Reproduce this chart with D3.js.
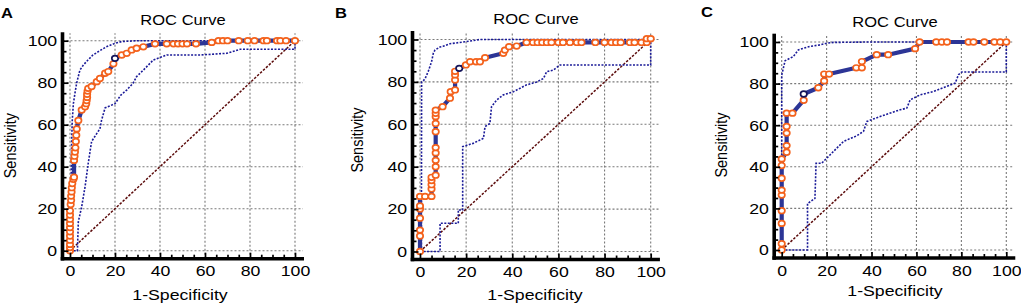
<!DOCTYPE html>
<html>
<head>
<meta charset="utf-8">
<script src="https://cdn.jsdelivr.net/npm/d3@7"></script>
<style>
  body { margin: 0; background: #fff; }
  svg { display: block; font-family: "Liberation Sans", Arial, sans-serif; }
</style>
</head>
<body>
<svg id="chart" width="1021" height="306"></svg>
<script>
// ---- data: [1-specificity, sensitivity] ----
var majorTicks = [0, 20, 40, 60, 80, 100];
var minorTicks = d3.range(0, 101, 5);
var panelLetters = ["A", "B", "C"];
var titleText = "ROC Curve";
var xTitle = "1-Specificity";
var yTitle = "Sensitivity";

var rocA = [[0,0],[0,1.5],[0,3],[0,5],[0,7],[0,9],[0,11],[0,13],[0,15],[0,17],[0,19],[0.3,22],[0.5,24],[0.5,26],
  [0.7,28],[0.8,30],[1,32],[1.5,34],[1.8,35],[1.8,43],[2,45],[2.2,47],[2.4,49],[2.6,52],[2.8,55],[3,58],[3.7,62],
  [5.2,67],[6.7,68.5],[7.2,70],[7.4,71.5],[7.6,73],[7.6,74.5],[7.8,76],[8.1,77.3],[9.6,78.2],[11.9,80.5],[13.3,82],
  [15.6,84.5],[17,85.3],[19.3,89],[20,91.6],[23,93.2],[25.2,94],[27.4,95.6],[29.6,96.4],[32.6,97.1],[37.8,98.5],
  [43,98.5],[46,98.5],[48,98.5],[50,98.5],[52,98.5],[56,98.5],[63,99.2],[66,100],[68,100],[70,100],[75,100],
  [79,100],[82,100],[86,100],[87.5,100],[92,100],[93.5,100],[96,100],[100,100]];
var optA = [20, 91.6];
var upperA = [[0.4,0],[0.5,30],[0.7,50],[1,62],[1.5,70],[2.2,75],[3,80],[4.4,86],[6,88.5],[8,90.8],[10,93],
  [12.6,94.8],[16,97],[20,98.8],[23,99.6],[30,100],[100,100]];
var lowerA = [[0,0],[3.3,0],[3.7,13.8],[5.2,21],[6.7,30.5],[8.1,41.6],[9.6,52],[12,56],[13.3,58],[14,62],[15.6,68],
  [20,70],[22.5,74],[25.2,76.5],[28,79.7],[29.6,82.9],[32.6,86],[37,90.8],[43,93.2],[47,93.2],[58,93.2],[69.6,94],
  [75.6,95.9],[100,95.9],[100,100]];

var rocB = [[0,0],[0,7.3],[0,10.1],[0,15.7],[0,20],[0,21.5],[0,26],[2.2,26],[5,26],[5,29.5],[5,31.5],[5,33.5],[5,35],
  [6.8,36],[6.8,40],[6.8,43],[6.8,46.5],[6.8,49],[6.8,56.5],[6.8,60.4],[6.8,63.6],[6.8,65.2],[6.8,66.7],[9.8,68.3],
  [13,72.3],[13.3,75.4],[15.2,76.2],[15.2,80.9],[15.2,83.3],[15.2,85],[17,86.4],[19.9,88],[21.7,89.5],[24.3,89.5],
  [26,89.5],[28.2,91.4],[36.1,93.5],[36.8,95],[38.6,96.6],[41.9,96.9],[46.2,98.6],[49,98.6],[51,98.6],[53,98.6],
  [55,98.6],[57,98.6],[60,98.6],[62,98.6],[65,98.6],[68,98.6],[70,98.6],[76,98.6],[80,98.6],[83,98.6],[85,98.6],
  [87,98.6],[91,98.6],[93,98.6],[96,98.6],[98.3,98.6],[98.3,100.4],[100,100.4]];
var optB = [17, 86.4];
var upperB = [[0.6,0],[0.7,80],[1.4,80.5],[2.2,81.5],[3.6,85],[5,89.5],[5.8,93.6],[6.5,95],[8.7,96.5],[10,96.8],
  [13,98],[20,99],[26,100],[100,100]];
var lowerB = [[0,0],[8.7,0],[8.7,13.3],[16.6,13.3],[16.6,19.6],[18.5,19.6],[18.5,49.5],[23,51],[27.5,53.4],
  [28.2,58.9],[30.3,60.4],[31,68.3],[33.2,71.4],[36,73.8],[40.5,75.4],[43.4,77],[46,78.5],[50.6,80],[53.5,81.6],
  [54.9,84.8],[57.8,85.6],[60.7,88],[66.5,88],[100,88],[100,100]];

var rocC = [[0,0],[0,3],[0,12.8],[0,18.9],[0,26.4],[0,28.8],[0,34.5],[0,40.6],[0,43.8],[2.2,47],[2.2,50.2],
  [2.2,56.2],[2.2,59.4],[2.2,65.8],[4.8,65.8],[9.8,72],[9.8,75],[16.3,78],[18.9,81.3],[18.9,84.6],[21.1,84.6],
  [33.2,87.6],[35.7,87.6],[35.7,90.6],[42.3,93.9],[47.4,93.9],[59.4,96.8],[61.4,100],[68.8,100],[71.3,100],
  [73.6,100],[83.2,100],[85.4,100],[90.2,100],[94.7,100],[97.3,100],[100,100]];
var optC = [9.8, 75];
var upperC = [[0,0],[0,84],[1.5,91],[5.2,93],[7.4,96.2],[12.6,97.9],[17,98.6],[20,99.4],[23,99.8],[39,100],[100,100]];
var lowerC = [[0,0],[11.5,0],[11.5,22.3],[14.8,24.8],[15.3,41.7],[17.8,41.7],[20,44.1],[25.3,49.8],[27.5,52.2],
  [33.4,54.9],[36.4,57],[37.9,61.8],[43.8,64.2],[52.7,67.4],[55.7,68.2],[57.2,72.2],[61.7,74.6],[67.6,76.2],
  [73.6,78.7],[77.3,80.3],[78.7,84.3],[80.2,85.6],[100,85.6],[100,100]];

var diagonal = [[0,0],[100,100]];

// ---- layout of the three panels (pixel positions of 0 and 100) ----
var panels = [
  { letter: panelLetters[0], roc: rocA, opt: optA, upper: upperA, lower: lowerA,
    x0: 70, x100: 295, y0: 250.7, y100: 40.7,
    letterPos: [1, 18], titlePos: [183, 25], xTitlePos: [180, 300], yTitlePos: [15.5, 145.7] },
  { letter: panelLetters[1], roc: rocB, opt: optB, upper: upperB, lower: lowerB,
    x0: 420, x100: 650.7, y0: 251.5, y100: 39.5,
    letterPos: [335, 17.5], titlePos: [536, 23.5], xTitlePos: [535, 300], yTitlePos: [363, 140] },
  { letter: panelLetters[2], roc: rocC, opt: optC, upper: upperC, lower: lowerC,
    x0: 781.7, x100: 1006.3, y0: 250, y100: 42,
    letterPos: [701, 17], titlePos: [895, 26.5], xTitlePos: [895, 296], yTitlePos: [727, 145] }
];

var stretch = "scale(1.18,1)"; // the picture is a bit wider than tall
var colors = {
  grid: "#7a7a7a",
  diag: "#5c0c0c",
  band: "#1a1a98",
  roc: "#2c3596",
  marker: "#f4621c",
  opt: "#14145a"
};

var svg = d3.select("#chart");

panels.forEach(function(p){
  var x = d3.scaleLinear().domain([0, 100]).range([p.x0, p.x100]);
  var y = d3.scaleLinear().domain([0, 100]).range([p.y0, p.y100]);
  var axisX = p.x0 - 7.5;   // y axis line sits left of zero
  var axisY = p.y0 + 8;     // x axis line sits under zero
  var g = svg.append("g");

  // dotted grid
  g.selectAll(".vgrid").data(majorTicks).enter().append("line")
    .attr("x1", function(d){ return x(d); }).attr("x2", function(d){ return x(d); })
    .attr("y1", axisY).attr("y2", y(103.5))
    .attr("stroke", colors.grid).attr("stroke-width", 1.1).attr("stroke-dasharray", "2,2");
  g.selectAll(".hgrid").data(majorTicks).enter().append("line")
    .attr("y1", function(d){ return y(d); }).attr("y2", function(d){ return y(d); })
    .attr("x1", axisX).attr("x2", x(103.5))
    .attr("stroke", colors.grid).attr("stroke-width", 1.1).attr("stroke-dasharray", "2,2");

  var line = d3.line().x(function(d){ return x(d[0]); }).y(function(d){ return y(d[1]); });

  // reference diagonal
  g.append("path").attr("d", line(diagonal))
    .attr("fill", "none").attr("stroke", colors.diag).attr("stroke-width", 1.5).attr("stroke-dasharray", "2.5,1.5");

  // confidence bounds
  [p.upper, p.lower].forEach(function(band){
    g.append("path").attr("d", line(band))
      .attr("fill", "none").attr("stroke", colors.band).attr("stroke-width", 1.6)
      .attr("stroke-dasharray", "2,1.5");
  });

  // roc curve
  g.append("path").attr("d", line(p.roc))
    .attr("fill", "none").attr("stroke", colors.roc).attr("stroke-width", 4.2)
    .attr("stroke-linejoin", "round").attr("stroke-linecap", "round");

  g.selectAll(".pt").data(p.roc).enter().append("ellipse")
    .attr("cx", function(d){ return x(d[0]); })
    .attr("cy", function(d){ return y(d[1]); })
    .attr("rx", 3.2).attr("ry", 2.8)
    .attr("fill", "#fff")
    .attr("stroke", function(d){ return (d[0] === p.opt[0] && d[1] === p.opt[1]) ? colors.opt : colors.marker; })
    .attr("stroke-width", 1.7);

  // axes
  var xAxis = d3.axisBottom(x).tickValues(minorTicks).tickSize(-4).tickPadding(7)
    .tickFormat(function(d){ return d % 20 === 0 ? d : ""; });
  var yAxis = d3.axisLeft(y).tickValues(minorTicks).tickSize(-4).tickPadding(4.5)
    .tickFormat(function(d){ return d % 20 === 0 ? d : ""; });

  var gx = g.append("g").attr("transform", "translate(0," + axisY + ")").call(xAxis);
  var gy = g.append("g").attr("transform", "translate(" + axisX + ",0)").call(yAxis);

  [gx, gy].forEach(function(ax){
    ax.select(".domain").remove();
    ax.selectAll(".tick line").attr("stroke", "#000").attr("stroke-width", 1.7);
    ax.selectAll(".tick text").attr("font-size", 15).attr("fill", "#000")
      .attr("font-family", "Liberation Sans, Arial, sans-serif").attr("transform", stretch);
  });
  gx.selectAll(".tick line").filter(function(d){ return d % 20 === 0; }).attr("y2", -6);
  gy.selectAll(".tick line").filter(function(d){ return d % 20 === 0; }).attr("x2", 6);

  // thick axis lines
  g.append("line").attr("x1", axisX).attr("x2", axisX).attr("y1", y(104)).attr("y2", axisY + 1.75)
    .attr("stroke", "#000").attr("stroke-width", 3.6);
  g.append("line").attr("x1", axisX - 1.8).attr("x2", x(104)).attr("y1", axisY).attr("y2", axisY)
    .attr("stroke", "#000").attr("stroke-width", 3.6);

  // texts
  g.append("text").text(p.letter)
    .attr("transform", "translate(" + p.letterPos[0] + "," + p.letterPos[1] + ") " + stretch)
    .attr("font-size", 14).attr("font-weight", "bold").attr("fill", "#000");
  g.append("text").text(titleText)
    .attr("transform", "translate(" + p.titlePos[0] + "," + p.titlePos[1] + ") " + stretch)
    .attr("text-anchor", "middle").attr("font-size", 14).attr("fill", "#000");
  g.append("text").text(xTitle)
    .attr("transform", "translate(" + p.xTitlePos[0] + "," + p.xTitlePos[1] + ") " + stretch)
    .attr("text-anchor", "middle").attr("font-size", 15).attr("fill", "#000");
  g.append("text").text(yTitle)
    .attr("transform", "translate(" + p.yTitlePos[0] + "," + p.yTitlePos[1] + ") " + stretch + " rotate(-90)")
    .attr("text-anchor", "middle").attr("font-size", 14.5).attr("fill", "#000");
});
</script>
</body>
</html>
